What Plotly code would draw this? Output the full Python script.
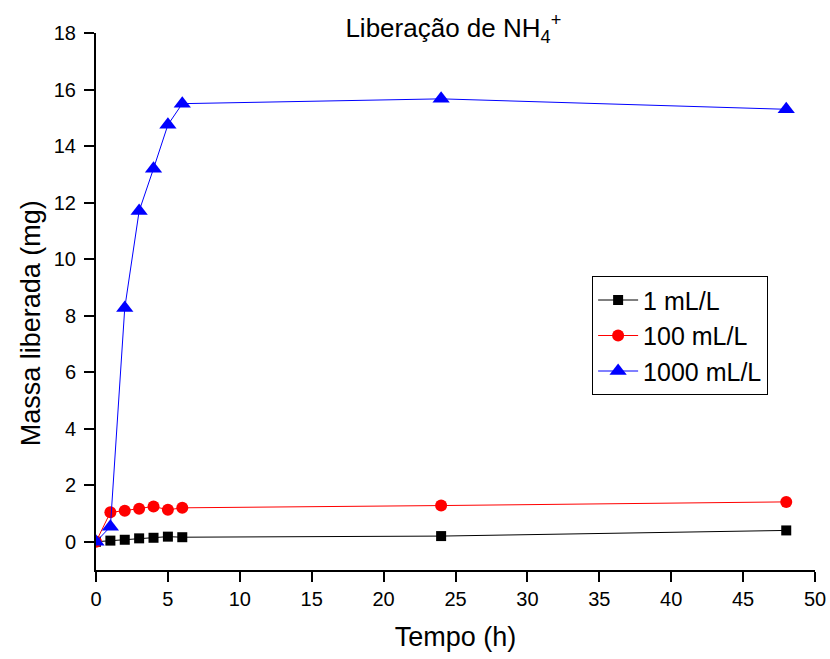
import plotly.graph_objects as go

# Tempo de coleta (h)
tempo = [0, 1, 2, 3, 4, 5, 6, 24, 48]

# Massa liberada de NH4+ (mg) por concentração
massa_1 = [0.0, 0.04, 0.07, 0.12, 0.14, 0.18, 0.16, 0.20, 0.40]
massa_100 = [0.0, 1.04, 1.10, 1.17, 1.25, 1.13, 1.20, 1.28, 1.41]
massa_1000 = [0.0, 0.53, 8.27, 11.7, 13.2, 14.75, 15.5, 15.67, 15.3]

series_names = ["1 mL/L", "100 mL/L", "1000 mL/L"]
x_ticks = [0, 5, 10, 15, 20, 25, 30, 35, 40, 45, 50]
y_ticks = [0, 2, 4, 6, 8, 10, 12, 14, 16, 18]

font_family = "Liberation Sans, Arial, sans-serif"

fig = go.Figure()
fig.add_trace(go.Scatter(
    x=tempo, y=massa_1, name=series_names[0], mode="lines+markers",
    line=dict(color="black", width=1),
    marker=dict(symbol="square", size=10, color="black"),
))
fig.add_trace(go.Scatter(
    x=tempo, y=massa_100, name=series_names[1], mode="lines+markers",
    line=dict(color="red", width=1),
    marker=dict(symbol="circle", size=12, color="red"),
))
fig.add_trace(go.Scatter(
    x=tempo, y=massa_1000, name=series_names[2], mode="lines+markers",
    line=dict(color="blue", width=1),
    marker=dict(symbol="triangle-up", size=15, color="blue"),
))

axis_common = dict(
    showgrid=False, zeroline=False, showline=True, linecolor="black",
    linewidth=2, ticks="outside", ticklen=10, tickwidth=2, tickcolor="black",
    tickfont=dict(family=font_family, size=20, color="black"),
    automargin=False,
)

fig.update_layout(
    width=830, height=659,
    margin=dict(l=96, r=15, t=33, b=89),
    paper_bgcolor="white", plot_bgcolor="white",
    font=dict(family=font_family, color="black"),
    title=dict(
        text="Liberação de NH<sub>4</sub><sup>+</sup>",
        x=0.497, xanchor="center", y=1 - 28 / 659, yanchor="middle",
        xref="paper", yref="container",
        font=dict(family=font_family, size=26, color="black"),
    ),
    xaxis=dict(
        range=[0, 50], tickvals=x_ticks, ticktext=[str(v) for v in x_ticks],
        title=dict(text="Tempo (h)", font=dict(family=font_family, size=27), standoff=18),
        **axis_common,
    ),
    yaxis=dict(
        range=[-1, 18], tickvals=y_ticks, ticktext=[str(v) for v in y_ticks],
        ticklabelstandoff=4,
        **axis_common,
    ),
    legend=dict(
        x=0.69, y=0.547, xanchor="left", yanchor="top",
        bordercolor="black", borderwidth=1, bgcolor="white",
        font=dict(family=font_family, size=25, color="black"),
        itemwidth=40, tracegroupgap=0,
    ),
    showlegend=True,
)

# Y-axis title placed as a rotated annotation, centred a little below the axis midpoint
fig.add_annotation(
    text="Massa liberada (mg)", textangle=-90,
    xref="paper", yref="paper", x=-0.09, y=0.46,
    xanchor="center", yanchor="middle", showarrow=False,
    font=dict(family=font_family, size=27, color="black"),
)

fig.write_html("out.html")
